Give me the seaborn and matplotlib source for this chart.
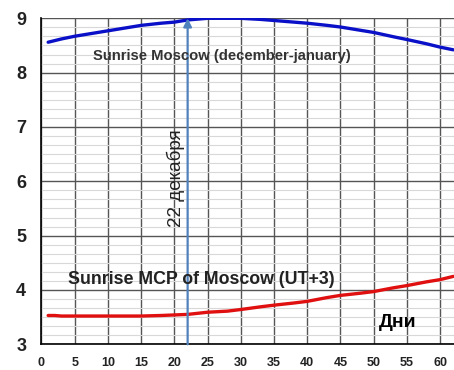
import numpy as np
import pandas as pd
import matplotlib
matplotlib.use("Agg")
import matplotlib.pyplot as plt
from matplotlib.ticker import MultipleLocator
import seaborn as sns

# Sunrise times (decimal hours) by day, counted from 1 December
moscow_days = [1, 3, 5, 8, 10, 13, 15, 18, 20, 22, 25, 28, 30, 33, 35, 38, 40,
               43, 45, 48, 50, 53, 55, 58, 60, 62]
moscow_sunrise = [8.56, 8.62, 8.67, 8.73, 8.77, 8.83, 8.87, 8.91, 8.93, 8.97,
                  9.00, 9.00, 9.00, 8.98, 8.96, 8.93, 8.91, 8.87, 8.84, 8.78,
                  8.74, 8.66, 8.61, 8.53, 8.47, 8.42]

mcp_days = [1, 2, 3, 5, 10, 15, 18, 20, 22, 25, 28, 30, 33, 35, 38, 40, 43,
            45, 48, 50, 53, 55, 58, 60, 62]
mcp_sunrise = [3.53, 3.53, 3.52, 3.52, 3.52, 3.52, 3.53, 3.54, 3.55, 3.59,
               3.61, 3.64, 3.69, 3.72, 3.76, 3.79, 3.86, 3.90, 3.94, 3.97,
               4.04, 4.08, 4.15, 4.19, 4.25]

solstice_day = 22
x_ticks = list(range(0, 61, 5))
y_ticks = [3, 4, 5, 6, 7, 8, 9]

sns.set_style("white")
plt.rcParams["font.family"] = ["Liberation Sans", "DejaVu Sans"]

moscow = pd.DataFrame({"day": moscow_days, "hours": moscow_sunrise})
mcp = pd.DataFrame({"day": mcp_days, "hours": mcp_sunrise})

fig = plt.figure(figsize=(4.54, 3.70), dpi=100)
ax = fig.add_axes([0.0914, 0.0695, 0.9086, 0.881])

# grid: dark major lines, light minor horizontal lines
ax.yaxis.set_minor_locator(MultipleLocator(1 / 6))
ax.xaxis.set_minor_locator(MultipleLocator(1))
ax.set_xticks(x_ticks)
ax.set_yticks(y_ticks)
ax.grid(which="major", axis="both", color="#555555", lw=1.0, zorder=0)
ax.grid(which="minor", axis="y", color="#d8d8d8", lw=0.8, zorder=0)
ax.set_axisbelow(True)

sns.lineplot(data=moscow, x="day", y="hours", color="#0a10c8", lw=2.4, ax=ax)
sns.lineplot(data=mcp, x="day", y="hours", color="#e01010", lw=2.4, ax=ax)

# winter solstice marker
ax.annotate("", xy=(solstice_day, 9.0), xytext=(solstice_day, 3.0),
            arrowprops=dict(arrowstyle="-|>", color="#4f81bd", lw=1.6,
                            mutation_scale=12, shrinkA=0, shrinkB=0))
ax.text(solstice_day - 1.7, 6.05, "22 декабря", rotation=90, ha="center",
        va="center", fontsize=13.5, color="#222222")

ax.text(7.8, 8.3, "Sunrise Moscow (december-january)", fontsize=10.6,
        fontweight="bold", color="#333333", ha="left", va="center")
ax.text(4, 4.2, "Sunrise MCP of Moscow (UT+3)", fontsize=12.8,
        fontweight="bold", color="#222222", ha="left", va="center")
ax.text(53.6, 3.4, "Дни", fontsize=14, fontweight="bold", color="black",
        ha="center", va="center")

ax.set_xlim(0, 62.1)
ax.set_ylim(3, 9)
ax.set_xlabel("")
ax.set_ylabel("")

for s in ["top", "right"]:
    ax.spines[s].set_visible(False)
for s in ["left", "bottom"]:
    ax.spines[s].set_color("black")
    ax.spines[s].set_linewidth(1.2)

ax.tick_params(axis="y", which="major", direction="out", length=7, width=1.2,
               labelsize=13, pad=4, colors="black")
ax.tick_params(axis="y", which="minor", direction="inout", length=7, width=1.0,
               colors="black")
ax.tick_params(axis="x", which="major", direction="out", length=7, width=1.2,
               labelsize=9, pad=2, colors="black")
ax.tick_params(axis="x", which="minor", direction="out", length=5, width=1.0,
               colors="black")
for lab in ax.get_xticklabels() + ax.get_yticklabels():
    lab.set_fontweight("bold")
    lab.set_color("#222222")

fig.savefig("out.png", dpi=100)
